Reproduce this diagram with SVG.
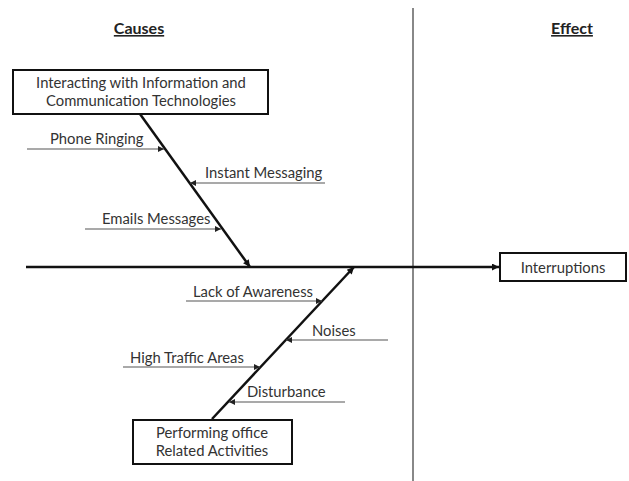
<svg xmlns="http://www.w3.org/2000/svg" width="629" height="481" viewBox="0 0 629 481">
  <style>
    .lbl { font-family: Lato, "Open Sans", "Liberation Sans", sans-serif; font-size: 14.8px; fill: #333; }
    .head { font-family: Lato, "Open Sans", "Liberation Sans", sans-serif; font-size: 16px; font-weight: bold; fill: #222; text-decoration: underline; }
    .box { fill: #fff; stroke: #111; stroke-width: 2; }
    .bone { stroke: #111; stroke-width: 2.5; fill: none; }
    .rib { stroke: #555; stroke-width: 1.2; fill: none; }
  </style>
  <defs>
    <marker id="head" viewBox="0 0 10 10" refX="10" refY="5" markerWidth="9" markerHeight="7" markerUnits="userSpaceOnUse" orient="auto">
      <path d="M0,0 L10,5 L0,10 z" fill="#111"/>
    </marker>
    <marker id="headSmall" viewBox="0 0 10 10" refX="10" refY="5" markerWidth="7" markerHeight="6" markerUnits="userSpaceOnUse" orient="auto">
      <path d="M0,0 L10,5 L0,10 z" fill="#222"/>
    </marker>
  </defs>
  <rect width="629" height="481" fill="#fff"/>

  <!-- divider between causes and effect -->
  <line x1="413" y1="8" x2="413" y2="481" stroke="#888" stroke-width="2"/>

  <text class="head" x="139" y="34" text-anchor="middle">Causes</text>
  <text class="head" x="572" y="34" text-anchor="middle">Effect</text>

  <g id="connectors">
    <!-- spine -->
    <line class="bone" x1="26" y1="267" x2="499" y2="267" stroke-width="2" marker-end="url(#head)"/>
    <!-- upper bone -->
    <line class="bone" x1="140" y1="114" x2="250" y2="267" marker-end="url(#head)"/>
    <!-- lower bone -->
    <line class="bone" x1="212" y1="419" x2="354" y2="267" marker-end="url(#head)"/>
    <!-- ribs on upper bone -->
    <line class="rib" x1="27" y1="149" x2="164" y2="149" marker-end="url(#headSmall)"/>
    <line class="rib" x1="325" y1="183" x2="190" y2="183" marker-end="url(#headSmall)"/>
    <line class="rib" x1="85" y1="229" x2="221" y2="229" marker-end="url(#headSmall)"/>
    <!-- ribs on lower bone -->
    <line class="rib" x1="186" y1="301" x2="322" y2="301" marker-end="url(#headSmall)"/>
    <line class="rib" x1="388" y1="340" x2="286" y2="340" marker-end="url(#headSmall)"/>
    <line class="rib" x1="123" y1="367" x2="260" y2="367" marker-end="url(#headSmall)"/>
    <line class="rib" x1="345" y1="402" x2="229" y2="402" marker-end="url(#headSmall)"/>
  </g>

  <g id="ict">
    <rect class="box" x="13" y="70" width="255" height="44"/>
    <text class="lbl" x="141" y="88" text-anchor="middle">Interacting with Information and</text>
    <text class="lbl" x="141" y="106" text-anchor="middle">Communication Technologies</text>
  </g>

  <g id="office">
    <rect class="box" x="133" y="420" width="159" height="44"/>
    <text class="lbl" x="212" y="438" text-anchor="middle">Performing office</text>
    <text class="lbl" x="212" y="456" text-anchor="middle">Related Activities</text>
  </g>

  <g id="interruptions">
    <rect class="box" x="500" y="253" width="126" height="28"/>
    <text class="lbl" x="563" y="273" text-anchor="middle" font-size="17.5">Interruptions</text>
  </g>

  <g id="phone"><text class="lbl" x="50" y="144">Phone Ringing</text></g>
  <g id="im"><text class="lbl" x="205" y="178">Instant Messaging</text></g>
  <g id="email"><text class="lbl" x="102" y="224">Emails Messages</text></g>
  <g id="awareness"><text class="lbl" x="193" y="297">Lack of Awareness</text></g>
  <g id="noises"><text class="lbl" x="312" y="336">Noises</text></g>
  <g id="traffic"><text class="lbl" x="130" y="363">High Traffic Areas</text></g>
  <g id="disturbance"><text class="lbl" x="247" y="397">Disturbance</text></g>
</svg>
